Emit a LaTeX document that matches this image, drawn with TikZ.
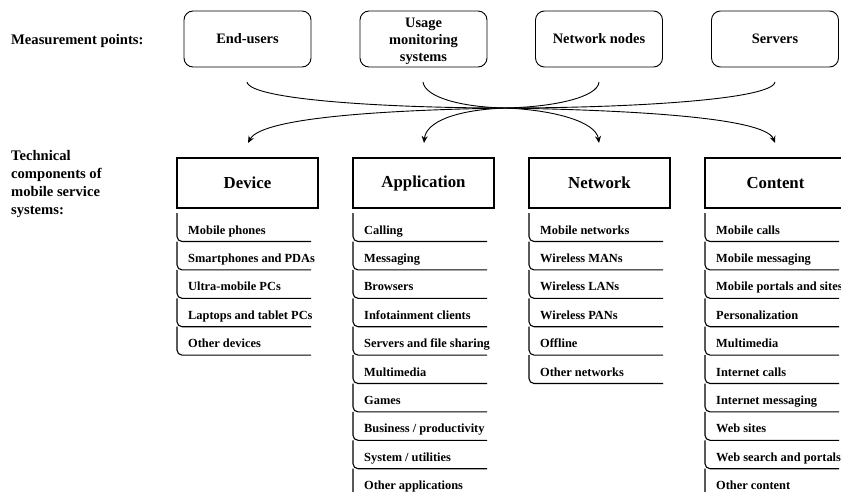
\documentclass[tikz,border=0pt]{standalone}
\usepackage{fontspec}
\setmainfont{Liberation Serif}
\usetikzlibrary{arrows.meta}
\begin{document}
\begin{tikzpicture}[x=1pt,y=-1pt,
  mbox/.style={draw, line width=0.9pt, rounded corners=9pt, minimum width=127pt, minimum height=56pt,
    align=center, inner sep=0pt, font=\bfseries\fontsize{14.4}{17}\selectfont},
  mtext/.style={align=center, inner sep=0pt, font=\bfseries\fontsize{14.4}{17}\selectfont},
  colhead/.style={draw, line width=1.8pt, minimum width=141pt, minimum height=50pt, inner sep=0pt,
    font=\bfseries\fontsize{16.8}{19}\selectfont},
  itemtext/.style={anchor=base west, inner sep=0pt, font=\bfseries\fontsize{12.4}{14}\selectfont},
  itemline/.style={line width=1.1pt, rounded corners=5pt},
  sidelabel/.style={anchor=base west, inner sep=0pt, align=left, font=\bfseries\fontsize{14.6}{18}\selectfont},
  flow/.style={line width=0.9pt},
  flowarrow/.style={flow, -{Stealth[length=7pt,width=6pt]}}]
\useasboundingbox (0,0) rectangle (841,492);

% side labels
\node[sidelabel] (mp) at (11,45) {Measurement points:};
\node[sidelabel, anchor=north west] (tc) at (11,150) {Technical\\components of\\mobile service\\systems:};

% measurement points
\node[mbox] (eu) at (247.5,39) {End-users};
\node[mbox] (ums) at (423.5,39) {};
\node[mtext] (umstext) at ([yshift=-2pt]ums.center) {Usage\\monitoring\\systems};
\node[mbox] (nn) at (599,39) {Network nodes};
\node[mbox] (sv) at (775,39) {Servers};

% connector points
\coordinate (s1) at (247,82);
\coordinate (s2) at (423,82);
\coordinate (s3) at (599,82);
\coordinate (s4) at (775,82);
\coordinate (hub) at (505,108);
\coordinate (e1) at (248,143);
\coordinate (e2) at (424,143);
\coordinate (e3) at (599,143);
\coordinate (e4) at (775,143);

\draw[flow] (s1) .. controls (250,100) and (390,108) .. (hub);
\draw[flow] (s2) .. controls (425,97) and (460,107) .. (hub);
\draw[flow] (s3) .. controls (598,97) and (555,107) .. (hub);
\draw[flow] (s4) .. controls (772,100) and (625,108) .. (hub);
\draw[flowarrow] (hub) .. controls (390,110) and (262,117) .. (e1);
\draw[flowarrow] (hub) .. controls (455,110) and (426,122) .. (e2);
\draw[flowarrow] (hub) .. controls (555,110) and (596,122) .. (e3);
\draw[flowarrow] (hub) .. controls (625,110) and (765,117) .. (e4);

% column headers
\node[colhead] (dev) at (247.5,183) {Device};
\node[colhead] (app) at (423.5,183) {Application};
\node[colhead] (net) at (599.5,183) {Network};
\node[colhead] (con) at (775.5,183) {Content};

\newcommand\colitems[3]{%
  \foreach \t [count=\i] in {#3} {
    \pgfmathsetmacro\yb{241.5+28.4*(\i-1)}
    \pgfmathsetmacro\yt{\yb-28.4}
    \draw[itemline] (#2,\yt) -- (#2,\yb) -- (#2+134,\yb);
    \node[itemtext] (#1-\i) at (#2+11,\yb-7.5) {\t};
  }}

\colitems{dev}{177}{Mobile phones, Smartphones and PDAs, Ultra-mobile PCs, Laptops and tablet PCs, Other devices}
\colitems{app}{353}{Calling, Messaging, Browsers, Infotainment clients, Servers and file sharing, Multimedia, Games, Business / productivity, System / utilities, Other applications}
\colitems{net}{529}{Mobile networks, Wireless MANs, Wireless LANs, Wireless PANs, Offline, Other networks}
\colitems{con}{705}{Mobile calls, Mobile messaging, Mobile portals and sites, Personalization, Multimedia, Internet calls, Internet messaging, Web sites, Web search and portals, Other content}
\end{tikzpicture}
\end{document}
